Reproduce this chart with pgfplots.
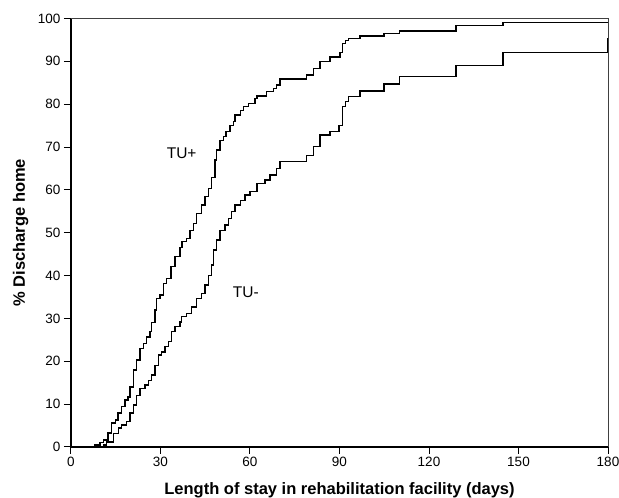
\documentclass[border=0pt]{standalone}
\usepackage{fontspec}
\setmainfont{Liberation Sans}
\usepackage{pgfplots}
\pgfplotsset{compat=1.18}

\begin{document}
\begin{tikzpicture}
\begin{axis}[
    scale only axis,
    width=537pt,
    height=428.5pt,
    xmin=0, xmax=180,
    ymin=0, ymax=100,
    xtick={0,30,...,180},
    ytick={0,10,...,100},
    axis x line*=bottom,
    axis y line*=left,
    axis line style={black, line width=1.2pt, -},
    tick align=outside,
    major tick length=7pt,
    tick style={black, line width=1pt},
    /pgf/number format/assume math mode=true,
    ticklabel style={font=\fontsize{13.5}{16}\selectfont},
    label style={font=\bfseries\fontsize{16.5}{19}\selectfont},
    xlabel={Length of stay in rehabilitation facility (days)},
    ylabel={\% Discharge home},
    xlabel style={at={(axis description cs:0.5,-0.1097)}, anchor=base},
    ylabel style={at={(axis description cs:-0.0857,0.5)}, anchor=base},
    clip=false,
]
% TU+
\addplot[const plot, black, line width=1.3pt] coordinates {
    (0,0) (8.0,0.5) (9.7,1.0) (10.8,1.6) (12.4,3.3) (13.6,5.6) (14.8,6.3)
    (15.8,7.9) (17.0,9.4) (18.1,11.0) (19.1,11.7) (19.8,14.0) (20.9,18.0)
    (22.0,20.3) (23.1,23.0) (24.2,24.2) (25.4,25.7) (26.5,27.0) (27.1,29.0)
    (28.2,32.0) (28.7,34.7) (29.8,35.5) (30.9,38.2) (32.1,39.4) (33.5,42.1)
    (34.9,44.4) (36.5,46.5) (37.2,47.9) (38.8,48.7) (39.9,50.6) (41.0,52.2)
    (42.1,54.5) (43.8,56.5) (44.9,58.4) (46.0,60.4) (47.2,62.9) (48.3,67.0)
    (48.8,69.3) (49.9,71.6) (51.1,72.4) (52.0,73.6) (53.3,75.1) (54.4,75.9)
    (55.0,77.5) (56.7,78.6) (57.8,79.4) (59.4,80.2) (61.7,81.4) (62.3,81.9)
    (65.6,82.9) (67.8,83.7) (69.0,84.5) (70.1,85.9) (79.0,86.8) (81.2,88.4)
    (83.5,90.0) (86.8,91.0) (90.2,92.1) (91.1,94.2) (91.9,94.8) (92.9,95.4)
    (96.9,95.9) (104.9,96.5) (110.0,97.1) (129.1,98.3) (144.8,99.0) (180,99.0)
};
% TU-
\addplot[const plot, black, line width=1.3pt] coordinates {
    (0,0) (10.8,0.5) (12.0,1.2) (14.2,3.2) (15.9,4.4) (17.0,5.1) (18.7,5.9)
    (19.8,7.9) (20.9,9.8) (22.0,12.1) (23.1,13.7) (24.8,14.5) (25.9,15.6)
    (27.1,16.8) (28.2,19.1) (29.3,21.5) (30.4,22.2) (31.5,23.4) (32.6,24.6)
    (33.8,26.9) (34.9,28.1) (36.5,29.2) (37.1,30.4) (38.8,31.2) (40.5,32.7)
    (42.1,34.7) (43.8,35.9) (44.9,37.8) (46.0,40.1) (47.2,42.5) (47.7,46.0)
    (48.8,48.3) (49.9,50.6) (51.6,51.8) (52.7,53.4) (53.9,54.9) (55.0,56.5)
    (56.7,57.6) (58.3,58.8) (60.0,59.6) (62.3,61.5) (65.0,62.3) (66.7,63.5)
    (69.0,65.0) (70.1,66.6) (79.0,68.1) (81.2,70.1) (83.5,72.8) (86.8,73.6)
    (89.8,75.1) (91.1,79.4) (91.9,80.6) (92.9,81.8) (96.9,83.1) (104.9,84.7)
    (110.0,86.4) (129.1,89.1) (144.8,92.0) (180,92.0) (180,95.4)
};
\draw[black!75, line width=0.6pt] (rel axis cs:0,1) -- (rel axis cs:1,1) -- (rel axis cs:1,0);
\node[font=\fontsize{15.5}{18}\selectfont] at (axis cs:37.1,68.5) {TU+};
\node[font=\fontsize{15.5}{18}\selectfont] at (axis cs:58.6,36.1) {TU-};
\coordinate (ll) at (rel axis cs:0,0);
\end{axis}
\pgfresetboundingbox
\path[use as bounding box] (ll) ++(-71pt,-51pt) rectangle ++(619pt,498pt);
\end{tikzpicture}
\end{document}
